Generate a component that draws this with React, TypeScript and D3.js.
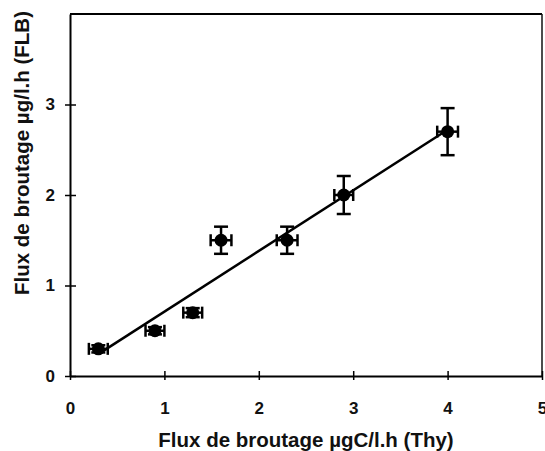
import React, { useEffect, useRef } from 'react';
import * as d3 from 'd3';

// values
const thy = [0.3, 0.9, 1.3, 1.6, 2.3, 2.9, 4.0];
const flb = [0.3, 0.5, 0.7, 1.5, 1.5, 2.0, 2.7];
const thyErr = [0.1, 0.1, 0.1, 0.11, 0.11, 0.1, 0.11];
const flbErr = [0.04, 0.04, 0.05, 0.15, 0.15, 0.21, 0.26];

const xTicks = [0, 1, 2, 3, 4, 5];
const yTicks = [0, 1, 2, 3];

const xTitle = 'Flux de broutage µgC/l.h (Thy)';
const yTitle = 'Flux de broutage µg/l.h (FLB)';

interface Pt { x: number; y: number; ex: number; ey: number; }

export default function App() {
    const svgRef = useRef<SVGSVGElement>(null);

    useEffect(() => {
        if (!svgRef.current) return;
        const svg = d3.select(svgRef.current);
        svg.selectAll('*').remove();

        const font = '"Liberation Sans", Arial, sans-serif';
        const left = 70, right = 542, top = 14, bottom = 376;

        const xScale = d3.scaleLinear().domain([0, 5]).range([left, right]);
        const yScale = d3.scaleLinear().domain([0, 4]).range([bottom, top]);

        const data: Pt[] = thy.map((x, i) => ({ x, y: flb[i], ex: thyErr[i], ey: flbErr[i] }));

        // frame top/right
        svg.append('line')
            .attr('x1', left).attr('x2', right).attr('y1', top).attr('y2', top)
            .attr('stroke', '#000').attr('stroke-width', 2);
        svg.append('line')
            .attr('x1', right).attr('x2', right).attr('y1', top).attr('y2', bottom)
            .attr('stroke', '#111').attr('stroke-width', 1.5);

        // axes
        const xAxis = svg.append('g').attr('transform', `translate(0,${bottom})`)
            .call(d3.axisBottom(xScale).tickValues(xTicks).tickFormat(d3.format('d')).tickSizeInner(5).tickSizeOuter(0).tickPadding(21));
        const yAxis = svg.append('g').attr('transform', `translate(${left},0)`)
            .call(d3.axisLeft(yScale).tickValues(yTicks).tickFormat(d3.format('d')).tickSizeInner(5).tickSizeOuter(0).tickPadding(10));

        [xAxis, yAxis].forEach(ax => {
            ax.select('.domain').attr('stroke', '#000').attr('stroke-width', 2);
            ax.selectAll('.tick line').attr('stroke', '#000').attr('stroke-width', 1.5);
            ax.selectAll('.tick text')
                .attr('font-family', font).attr('font-size', 17).attr('font-weight', 'bold').attr('fill', '#111');
        });
        // ticks cross the axis
        xAxis.selectAll('.tick line').attr('y1', -5).attr('y2', 4);
        yAxis.selectAll('.tick line').attr('x1', -5).attr('x2', 6);
        yAxis.selectAll('.tick text').attr('x', -15);

        // fitted regression line
        const mx = d3.mean(thy) as number;
        const my = d3.mean(flb) as number;
        const sxy = d3.sum(thy, (v, i) => (v - mx) * (flb[i] - my));
        const sxx = d3.sum(thy, v => (v - mx) * (v - mx));
        const slope = sxy / sxx;
        const icpt = my - slope * mx;
        const ext = d3.extent(thy) as [number, number];
        const line = d3.line<number>().x(v => xScale(v)).y(v => yScale(icpt + slope * v));
        svg.append('path').datum(ext)
            .attr('d', line)
            .attr('fill', 'none').attr('stroke', '#000').attr('stroke-width', 2.5);

        // error bars
        const eb = svg.append('g').attr('stroke', '#000').attr('stroke-width', 2.5);
        data.forEach(d => {
            const cx = xScale(d.x), cy = yScale(d.y);
            const x0 = xScale(d.x - d.ex), x1 = xScale(d.x + d.ex);
            const y0 = yScale(d.y - d.ey), y1 = yScale(d.y + d.ey);
            eb.append('line').attr('x1', x0).attr('x2', x1).attr('y1', cy).attr('y2', cy);
            eb.append('line').attr('x1', x0).attr('x2', x0).attr('y1', cy - 6).attr('y2', cy + 6);
            eb.append('line').attr('x1', x1).attr('x2', x1).attr('y1', cy - 6).attr('y2', cy + 6);
            eb.append('line').attr('x1', cx).attr('x2', cx).attr('y1', y0).attr('y2', y1);
            eb.append('line').attr('x1', cx - 7).attr('x2', cx + 7).attr('y1', y0).attr('y2', y0);
            eb.append('line').attr('x1', cx - 7).attr('x2', cx + 7).attr('y1', y1).attr('y2', y1);
        });

        svg.append('g').selectAll('circle').data(data).join('circle')
            .attr('cx', d => xScale(d.x)).attr('cy', d => yScale(d.y))
            .attr('r', 6.5).attr('fill', '#000');

        // titles
        svg.append('text')
            .attr('x', 306).attr('y', 447)
            .attr('text-anchor', 'middle')
            .attr('font-family', font).attr('font-size', 20.5).attr('font-weight', 'bold').attr('fill', '#111')
            .text(xTitle);
        svg.append('text')
            .attr('transform', 'translate(29,153) rotate(-90)')
            .attr('text-anchor', 'middle')
            .attr('font-family', font).attr('font-size', 20.5).attr('font-weight', 'bold').attr('fill', '#111')
            .text(yTitle);
    }, []);

    return (
        <svg ref={svgRef} width={545} height={451}
            style={{ position: 'absolute', left: 0, top: 0, background: '#fff' }} />
    );
}
